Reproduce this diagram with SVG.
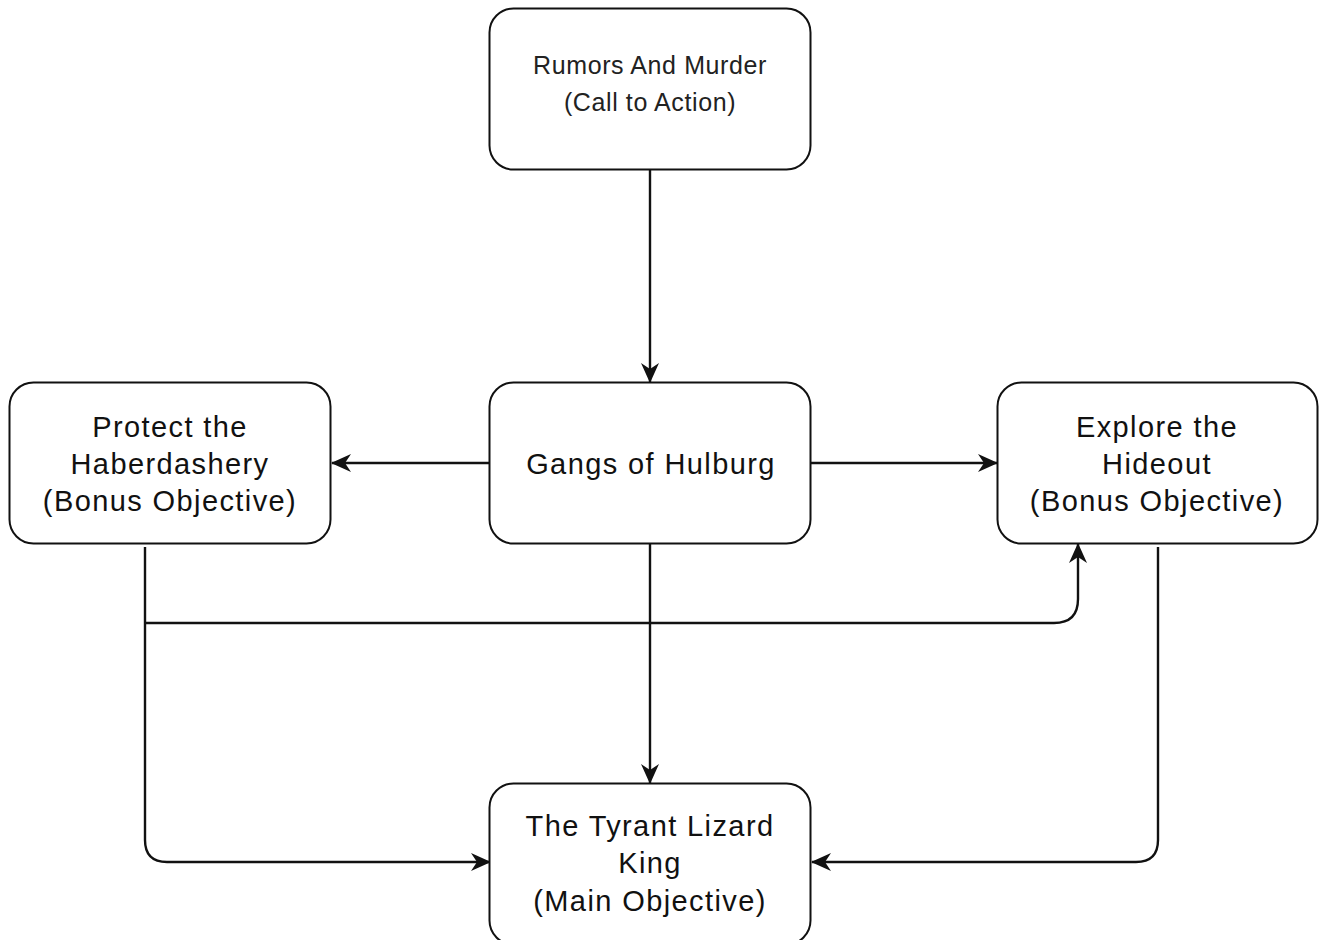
<svg xmlns="http://www.w3.org/2000/svg" width="1319" height="940" viewBox="0 0 1319 940">
<style>
.box{fill:#ffffff;stroke:#111111;stroke-width:2}
.t{font-family:"Liberation Sans",Arial,Helvetica,sans-serif;font-size:29px;letter-spacing:1.4px;fill:#111111;text-anchor:middle}
.ts{font-family:"Liberation Sans",Arial,Helvetica,sans-serif;font-size:25px;letter-spacing:0.6px;fill:#222222;text-anchor:middle}
.e{fill:none;stroke:#111111;stroke-width:2.4}
</style>
<defs>
<marker id="arr" viewBox="0 0 20 18" refX="19" refY="9" markerWidth="20" markerHeight="18" markerUnits="userSpaceOnUse" orient="auto">
<path d="M0,0 L20,9 L0,18 L6,9 Z" fill="#111111"/>
</marker>
</defs>
<rect width="1319" height="940" fill="#ffffff"/>
<g id="connectors">
<path class="e" d="M650,170 L650,382" marker-end="url(#arr)"/>
<path class="e" d="M489,463 L332,463" marker-end="url(#arr)"/>
<path class="e" d="M811,463 L997,463" marker-end="url(#arr)"/>
<path class="e" d="M650,543 L650,783" marker-end="url(#arr)"/>
<path class="e" d="M145,547 L145,840 Q145,862 167,862 L490,862" marker-end="url(#arr)"/>
<path class="e" d="M145,623 L1054,623 Q1078,623 1078,599 L1078,544" marker-end="url(#arr)"/>
<path class="e" d="M1158,547 L1158,840 Q1158,862 1136,862 L812,862" marker-end="url(#arr)"/>
</g>
<g id="node-rumors">
<rect class="box" x="489.5" y="8.5" width="321" height="161" rx="24" ry="24"/>
<text class="ts" x="650" y="74">Rumors And Murder</text>
<text class="ts" x="650" y="111">(Call to Action)</text>
</g>
<g id="node-haberdashery">
<rect class="box" x="9.5" y="382.5" width="321" height="161" rx="24" ry="24"/>
<text class="t" x="170" y="437">Protect the</text>
<text class="t" x="170" y="474">Haberdashery</text>
<text class="t" x="170" y="511">(Bonus Objective)</text>
</g>
<g id="node-gangs">
<rect class="box" x="489.5" y="382.5" width="321" height="161" rx="24" ry="24"/>
<text class="t" x="651" y="474">Gangs of Hulburg</text>
</g>
<g id="node-hideout">
<rect class="box" x="997.5" y="382.5" width="320" height="161" rx="24" ry="24"/>
<text class="t" x="1157" y="437">Explore the</text>
<text class="t" x="1157" y="474">Hideout</text>
<text class="t" x="1157" y="511">(Bonus Objective)</text>
</g>
<g id="node-tyrant">
<rect class="box" x="489.5" y="783.5" width="321" height="161" rx="24" ry="24"/>
<text class="t" x="650" y="836">The Tyrant Lizard</text>
<text class="t" x="650" y="873">King</text>
<text class="t" x="650" y="911">(Main Objective)</text>
</g>
</svg>
